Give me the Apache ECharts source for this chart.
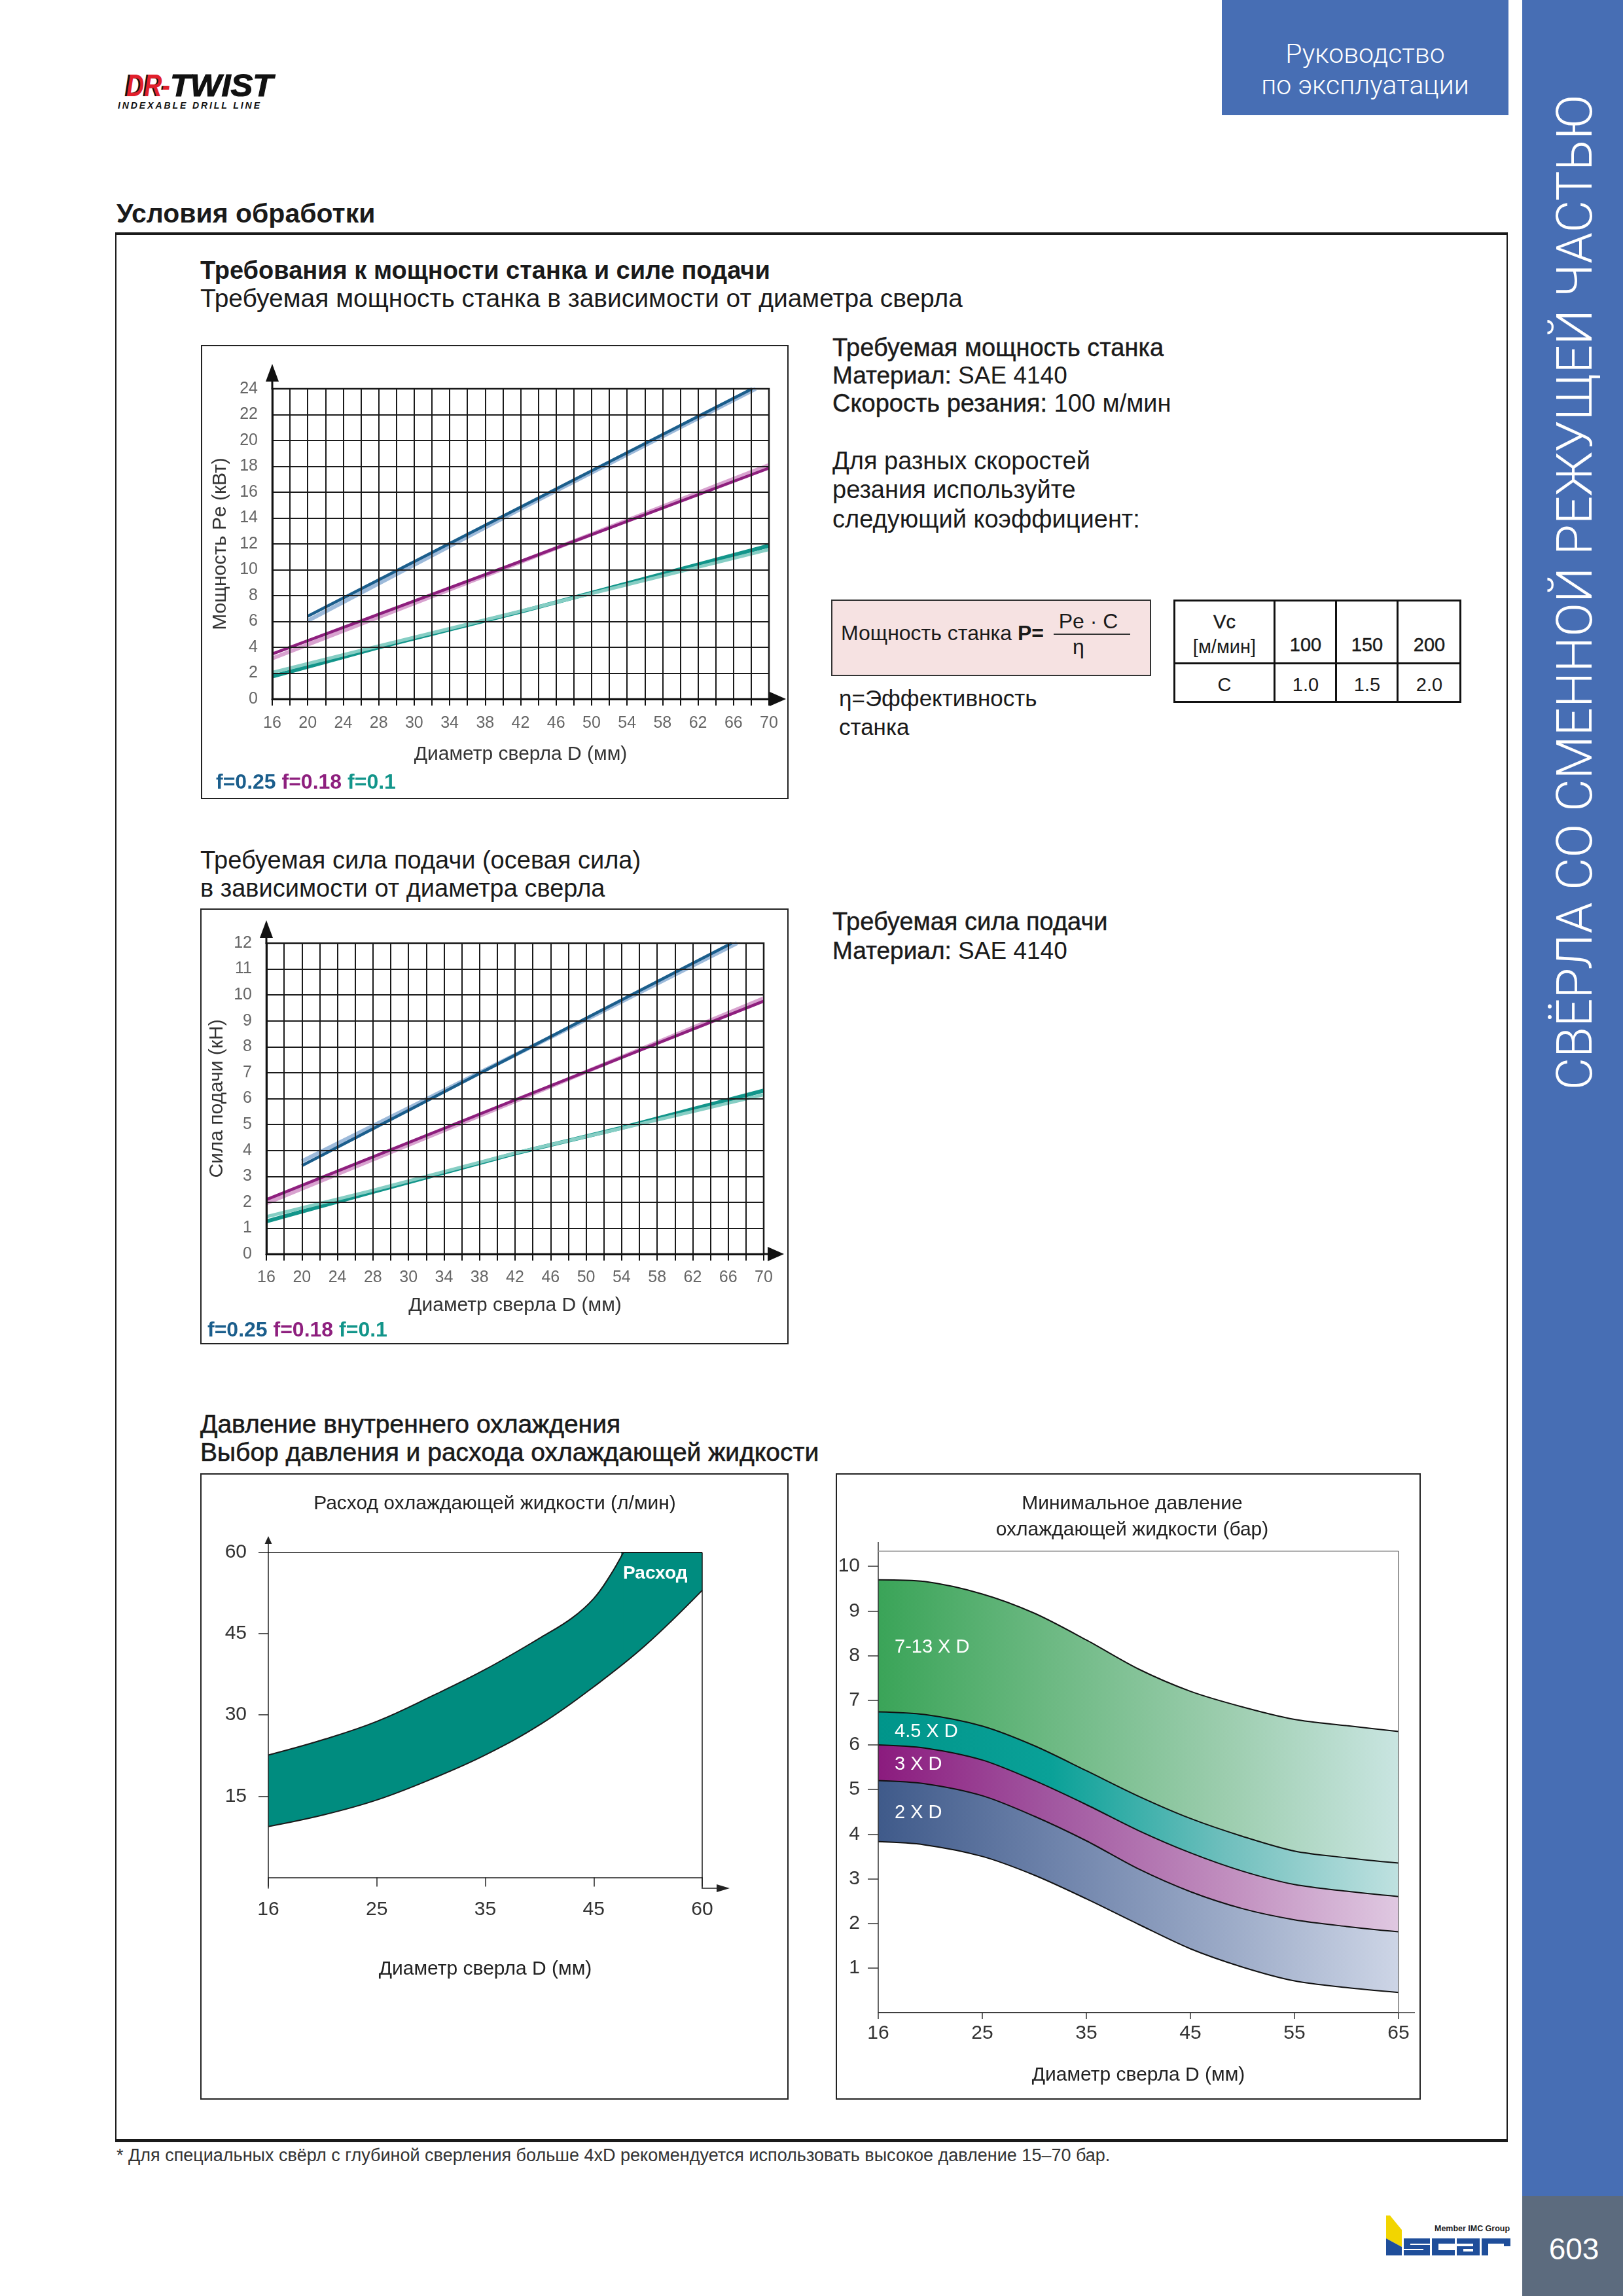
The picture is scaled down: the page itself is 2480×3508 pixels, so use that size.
<!DOCTYPE html>
<html><head><meta charset="utf-8">
<script src="https://cdn.jsdelivr.net/npm/echarts@6/dist/echarts.min.js"></script>
<style>
html,body{margin:0;padding:0;background:#fff;}
body{width:2480px;height:3508px;position:relative;overflow:hidden;font-family:'Liberation Sans',Arial,Helvetica,sans-serif;color:#1a1a1a;}
.t{position:absolute;white-space:nowrap;line-height:1;}
.med{-webkit-text-stroke:0.45px #1a1a1a;}
.med2{-webkit-text-stroke:0.6px #1a1a1a;}
.b{font-weight:bold;}
.box{position:absolute;border:2px solid #222;box-sizing:border-box;}
.chart{position:absolute;}
.c{text-align:center;}
</style></head><body>

<!-- DR-TWIST logo -->
<svg style="position:absolute;left:170px;top:100px" width="270" height="75">
  <text x="20" y="47" font-family="Liberation Sans, Arial" font-weight="bold" font-style="italic" font-size="48" fill="#111" textLength="68" lengthAdjust="spacingAndGlyphs">DR-</text>
  <text x="23" y="47" font-family="Liberation Sans, Arial" font-weight="bold" font-style="italic" font-size="48" fill="#E2202B" textLength="67" lengthAdjust="spacingAndGlyphs">DR-</text>
  <text x="90" y="47" font-family="Liberation Sans, Arial" font-weight="bold" font-style="italic" font-size="48" fill="#111" stroke="#111" stroke-width="1.2" textLength="157" lengthAdjust="spacingAndGlyphs">TWIST</text>
  <text x="10" y="66" font-family="Liberation Sans, Arial" font-weight="bold" font-style="italic" font-size="14" fill="#111" textLength="217" lengthAdjust="spacing">INDEXABLE DRILL LINE</text>
</svg>

<!-- header blue box -->
<div style="position:absolute;left:1867px;top:0;width:438px;height:176px;background:#476EB4;"></div>
<div class="t c" style="left:1867px;width:438px;top:62px;font-family:Roboto,'Liberation Sans';font-weight:300;font-size:41px;color:#fff;">Руководство</div>
<div class="t c" style="left:1867px;width:438px;top:110px;font-family:Roboto,'Liberation Sans';font-weight:300;font-size:41px;color:#fff;">по эксплуатации</div>

<!-- sidebar -->
<svg style="position:absolute;left:2326px;top:0" width="154" height="3508">
  <rect x="0" y="0" width="154" height="3355" fill="#476EB4"/>
  <rect x="0" y="3355" width="154" height="153" fill="#5C6B7E"/>
  <text x="80" y="905" transform="rotate(-90 80 905)" text-anchor="middle" dominant-baseline="central" font-family="Roboto, Liberation Sans" font-weight="300" font-size="76" fill="#fff" textLength="1521" lengthAdjust="spacingAndGlyphs">СВЁРЛА СО СМЕННОЙ РЕЖУЩЕЙ ЧАСТЬЮ</text>
  <text x="79" y="3436" text-anchor="middle" dominant-baseline="central" font-family="Liberation Sans, Arial" font-size="46" fill="#fff">603</text>
</svg>

<!-- ISCAR logo -->
<svg style="position:absolute;left:2110px;top:3380px" width="205" height="72">
  <polygon points="8,5 14,5 32,27 32,53 8,40" fill="#F2D500"/>
  <polygon points="8,40 32,53 32,66 8,66" fill="#1F4E9A"/>
  <path d="M35,40 h40 v8 h-30 v2 h30 v16 h-40 v-8 h30 v-2 h-30 z" fill="#1F4E9A"/>
  <path d="M78,40 h35 v8 h-25 v10 h25 v8 h-35 z" fill="#1F4E9A"/>
  <path d="M116,40 h35 v26 h-35 v-14 h25 v-4 h-25 z M126,56 v4 h15 v-4 z" fill="#1F4E9A"/>
  <path d="M154,40 h44 v12 h-10 v-4 h-24 v18 h-10 z" fill="#1F4E9A"/>
  <text x="82" y="29" font-family="Liberation Sans, Arial" font-weight="bold" font-size="12" fill="#222" textLength="115" lengthAdjust="spacingAndGlyphs">Member IMC Group</text>
</svg>

<!-- main heading and frame -->
<div class="t b" style="left:178px;top:306px;font-size:41px;">Условия обработки</div>
<div style="position:absolute;left:176px;top:355px;width:2128px;height:2918px;border-top:4px solid #1a1a1a;border-bottom:5px solid #1a1a1a;border-left:2px solid #1a1a1a;border-right:2px solid #1a1a1a;box-sizing:border-box;"></div>

<!-- section 1 -->
<div class="t b" style="left:306px;top:394px;font-size:38px;">Требования к мощности станка и силе подачи</div>
<div class="t" style="left:306px;top:436px;font-size:39px;">Требуемая мощность станка в зависимости от диаметра сверла</div>

<div class="t med" style="left:1272px;top:512px;font-size:38px;">Требуемая мощность станка</div>
<div class="t" style="left:1272px;top:555px;font-size:37px;"><span class="med">Материал:</span> SAE 4140</div>
<div class="t" style="left:1272px;top:597px;font-size:38px;"><span class="med">Скорость резания:</span> 100 м/мин</div>
<div class="t" style="left:1272px;top:685px;font-size:38px;">Для разных скоростей</div>
<div class="t" style="left:1272px;top:729px;font-size:38px;">резания используйте</div>
<div class="t" style="left:1272px;top:774px;font-size:38px;">следующий коэффициент:</div>

<!-- formula box -->
<div style="position:absolute;left:1270px;top:916px;width:489px;height:117px;background:#F6E2E2;border:2px solid #333;box-sizing:border-box;"></div>
<div class="t" style="left:1285px;top:951px;font-size:32px;">Мощность станка <span class="b">P=</span></div>
<div class="t c" style="left:1563px;width:200px;top:933px;font-size:32px;">Pe · C</div>
<div style="position:absolute;left:1610px;top:968px;width:117px;height:2px;background:#333;"></div>
<div class="t c" style="left:1548px;width:200px;top:972px;font-size:32px;">η</div>
<div class="t" style="left:1282px;top:1049px;font-size:35px;">η=Эффективность</div>
<div class="t" style="left:1282px;top:1093px;font-size:35px;">станка</div>

<!-- coefficient table -->
<div style="position:absolute;left:1793px;top:916px;width:440px;height:158px;border:3px solid #111;box-sizing:border-box;"></div>
<div style="position:absolute;left:1793px;top:1012px;width:440px;height:3px;background:#111;"></div>
<div style="position:absolute;left:1946px;top:916px;width:3px;height:158px;background:#111;"></div>
<div style="position:absolute;left:2040px;top:916px;width:3px;height:158px;background:#111;"></div>
<div style="position:absolute;left:2134px;top:916px;width:3px;height:158px;background:#111;"></div>
<div class="t c med" style="left:1771px;width:200px;top:936px;font-size:29px;">Vc</div>
<div class="t c" style="left:1771px;width:200px;top:974px;font-size:29px;">[м/мин]</div>
<div class="t c med" style="left:1895px;width:200px;top:971px;font-size:29px;">100</div>
<div class="t c med" style="left:1989px;width:200px;top:971px;font-size:29px;">150</div>
<div class="t c med" style="left:2084px;width:200px;top:971px;font-size:29px;">200</div>
<div class="t c" style="left:1771px;width:200px;top:1032px;font-size:29px;">C</div>
<div class="t c" style="left:1895px;width:200px;top:1032px;font-size:29px;">1.0</div>
<div class="t c" style="left:1989px;width:200px;top:1032px;font-size:29px;">1.5</div>
<div class="t c" style="left:2084px;width:200px;top:1032px;font-size:29px;">2.0</div>

<!-- section 2 -->
<div class="t" style="left:306px;top:1295px;font-size:38px;">Требуемая сила подачи (осевая сила)</div>
<div class="t" style="left:306px;top:1338px;font-size:38px;">в зависимости от диаметра сверла</div>
<div class="t med" style="left:1272px;top:1389px;font-size:38px;">Требуемая сила подачи</div>
<div class="t" style="left:1272px;top:1434px;font-size:37px;"><span class="med">Материал:</span> SAE 4140</div>

<!-- section 3 -->
<div class="t med2" style="left:306px;top:2156px;font-size:39px;">Давление внутреннего охлаждения</div>
<div class="t med2" style="left:306px;top:2199px;font-size:39px;">Выбор давления и расхода охлаждающей жидкости</div>

<!-- footer -->
<div class="t" style="left:178px;top:3280px;font-size:27px;color:#333;">* Для специальных свёрл с глубиной сверления больше 4xD рекомендуется использовать высокое давление 15–70 бар.</div>

<!-- chart boxes -->
<div class="box" style="left:307px;top:527px;width:898px;height:694px;"></div>
<div class="box" style="left:306px;top:1388px;width:899px;height:666px;"></div>
<div class="box" style="left:306px;top:2251px;width:899px;height:957px;"></div>
<div class="box" style="left:1277px;top:2251px;width:894px;height:957px;"></div>

<div id="c1" class="chart" style="left:307px;top:527px;width:898px;height:694px;"></div>
<div id="c2" class="chart" style="left:306px;top:1388px;width:899px;height:666px;"></div>
<div id="c3" class="chart" style="left:306px;top:2251px;width:899px;height:957px;"></div>
<div id="c4" class="chart" style="left:1277px;top:2251px;width:894px;height:957px;"></div>

<!-- chart overlays (legends, titles, band labels) -->
<div class="t b" style="left:330px;top:1178px;font-size:32px;"><span style="color:#1B5E8C">f=0.25</span> <span style="color:#8E1F7E">f=0.18</span> <span style="color:#12958A">f=0.1</span></div>
<div class="t b" style="left:317px;top:2015px;font-size:32px;"><span style="color:#1B5E8C">f=0.25</span> <span style="color:#8E1F7E">f=0.18</span> <span style="color:#12958A">f=0.1</span></div>

<div class="t c" style="left:456px;width:600px;top:2281px;font-size:30px;color:#222;">Расход охлаждающей жидкости (л/мин)</div>
<div class="t b" style="left:952px;top:2389px;font-size:28px;color:#fff;">Расход</div>

<div class="t c" style="left:1430px;width:600px;top:2281px;font-size:30px;color:#222;">Минимальное давление</div>
<div class="t c" style="left:1430px;width:600px;top:2321px;font-size:30px;color:#222;">охлаждающей жидкости (бар)</div>
<div class="t" style="left:1367px;top:2501px;font-size:29px;color:#fff;">7-13 X D</div>
<div class="t" style="left:1367px;top:2630px;font-size:29px;color:#fff;">4.5 X D</div>
<div class="t" style="left:1367px;top:2680px;font-size:29px;color:#fff;">3 X D</div>
<div class="t" style="left:1367px;top:2754px;font-size:29px;color:#fff;">2 X D</div>

<script>
// ================= DATA =================
// Grid charts (power, force): tick labels of the drill-diameter axis (equally spaced on paper)
const gridTickLabels = [16, 20, 24, 28, 30, 34, 38, 42, 46, 50, 54, 58, 62, 66, 70];
// Power Pe (kW) vs D (mm) — each feed drawn as a dark and a light stroke
const power025Dark  = [[20, 6.40], [42, 14.85], [68.1, 24.0]];
const power025Light = [[20, 6.05], [42, 14.70], [68.5, 24.0]];
const power018Dark  = [[16, 3.49], [42, 10.65], [70, 17.86]];
const power018Light = [[16, 3.14], [42, 10.60], [70, 18.10]];
const power01Dark   = [[16, 1.74], [28, 4.00], [42, 6.75], [70, 11.86]];
const power01Light  = [[16, 2.05], [28, 4.10], [42, 6.80], [70, 11.56]];
// Feed force (kN) vs D (mm)
const force025Dark  = [[20, 3.41], [50, 9.10], [66.4, 12.0]];
const force025Light = [[20, 3.58], [50, 9.05], [67.0, 12.0]];
const force018Dark  = [[16, 2.10], [42, 5.95], [70, 9.76]];
const force018Light = [[16, 1.96], [42, 5.90], [70, 9.87]];
const force01Dark   = [[16, 1.26], [28, 2.40], [42, 3.88], [54, 4.87], [70, 6.31]];
const force01Light  = [[16, 1.44], [28, 2.46], [42, 3.90], [54, 4.85], [70, 6.15]];

// Coolant flow (l/min) vs D (mm)
const flowTickLabels = [16, 25, 35, 45, 60];
const flowYTicks = [15, 30, 45, 60];
const flowUpper = [[16, 22.6], [20.5, 25.4], [25, 28.8], [30.2, 33.6], [35, 38.4], [40.2, 44.4], [43, 47.9], [45, 51.5], [47.2, 55.6], [49.1, 60]];
const flowCap   = [[48.8, 60], [60, 60]];
const flowLower = [[16, 9.4], [20.5, 11.5], [25, 14.3], [30.2, 18.3], [35, 22.6], [40.2, 28.4], [45, 35.2], [52.1, 42.8], [60, 53.0]];

// Minimal coolant pressure (bar) vs D (mm)
const pressTickLabels = [16, 25, 35, 45, 55, 65];
const pressYTicks = [1, 2, 3, 4, 5, 6, 7, 8, 9, 10];
const pressD        = [16, 20, 25, 30, 35, 40, 45, 50, 55, 60, 65];
const press713Top   = [9.70, 9.66, 9.38, 8.95, 8.35, 7.70, 7.20, 6.85, 6.57, 6.43, 6.30];
const press45Top    = [6.74, 6.68, 6.42, 5.98, 5.42, 4.85, 4.35, 3.95, 3.62, 3.47, 3.35];
const press3Top     = [6.00, 5.93, 5.66, 5.20, 4.66, 4.08, 3.58, 3.17, 2.87, 2.72, 2.60];
const press2Top     = [5.20, 5.13, 4.86, 4.40, 3.85, 3.22, 2.71, 2.33, 2.08, 1.93, 1.81];
const press2Bottom  = [3.83, 3.76, 3.50, 3.08, 2.55, 1.98, 1.43, 1.02, 0.71, 0.56, 0.45];

// ================= HELPERS =================
const FF = "'Liberation Sans', Arial, Helvetica, sans-serif";
// piecewise scale: tick labels are equally spaced on the axis
function toPos(d, ticks, step) {
  for (let i = 0; i < ticks.length - 1; i++) {
    if (d <= ticks[i + 1] || i === ticks.length - 2) {
      return (i + (d - ticks[i]) / (ticks[i + 1] - ticks[i])) * step;
    }
  }
}
const mapPts = (arr, ticks, step) => arr.map(p => [toPos(p[0], ticks, step), p[1]]);

function arrows(g, o) {
  const x0 = g.left, yb = g.top + g.height, xr = g.left + g.width;
  const c = o.color, lw = o.lw;
  return [
    {type:'line', z:100, shape:{x1:x0, y1:g.top + 1, x2:x0, y2:o.yTip + o.yah - 1}, style:{stroke:c, lineWidth:lw}},
    {type:'polygon', z:100, shape:{points:[[x0 - o.yaw/2, o.yTip + o.yah], [x0, o.yTip], [x0 + o.yaw/2, o.yTip + o.yah]]}, style:{fill:c}},
    {type:'line', z:100, shape:{x1:xr - 1, y1:yb, x2:o.xTip - o.xah + 1, y2:yb}, style:{stroke:c, lineWidth:lw}},
    {type:'polygon', z:100, shape:{points:[[o.xTip - o.xah, yb - o.xaw/2], [o.xTip, yb], [o.xTip - o.xah, yb + o.xaw/2]]}, style:{fill:c}}
  ];
}

function gridChart(id, g, yMax, yName, lines, namegaps, arrowCfg) {
  const chart = echarts.init(document.getElementById(id), null, {renderer:'canvas'});
  const series = lines.map(l => ({
    type:'line', data: mapPts(l.data, gridTickLabels, 2), showSymbol:false, silent:true,
    lineStyle:{color:l.color, width:l.w || 6, cap:'butt'}, z: l.z
  }));
  chart.setOption({
    animation:false,
    grid:{left:g.left, top:g.top, width:g.width, height:g.height, show:true, borderColor:'#111', borderWidth:2.5},
    xAxis:{
      type:'value', min:0, max:28, interval:1, z:5,
      axisLine:{lineStyle:{color:'#111', width:3}},
      axisTick:{show:true, length:10, lineStyle:{color:'#111', width:2}},
      axisLabel:{color:'#666', fontSize:25, fontFamily:FF, margin:namegaps.xm,
        formatter: v => (Math.round(v) % 2 === 0 ? String(gridTickLabels[Math.round(v) / 2]) : '')},
      splitLine:{show:true, lineStyle:{color:'#1a1a1a', width:2}},
      name:'Диаметр сверла D (мм)', nameLocation:'middle', nameGap:namegaps.x,
      nameTextStyle:{fontSize:30, color:'#333', fontFamily:FF}
    },
    yAxis:{
      type:'value', min:0, max:yMax, interval: yMax === 24 ? 2 : 1, z:5,
      axisLine:{show:true, lineStyle:{color:'#111', width:3}},
      axisTick:{show:false},
      axisLabel:{color:'#666', fontSize:25, fontFamily:FF, margin:namegaps.ym},
      splitLine:{show:true, lineStyle:{color:'#1a1a1a', width:2}},
      name:yName, nameLocation:'middle', nameGap:namegaps.y,
      nameTextStyle:{fontSize:30, color:'#333', fontFamily:FF}
    },
    series,
    graphic: arrows(g, arrowCfg)
  });
}

// ================= CHART 1: power =================
gridChart('c1', {left:109, top:67, width:759, height:474}, 24, 'Мощность Pe (кВт)', [
  {data:power025Light, color:'#9DBADA', z:2, w:6},
  {data:power025Dark,  color:'#1B5E8C', z:3, w:4.5},
  {data:power018Light, color:'#D8A2CF', z:2, w:6},
  {data:power018Dark,  color:'#8E1F7E', z:3, w:4.5},
  {data:power01Light,  color:'#86CEC4', z:3, w:5},
  {data:power01Dark,   color:'#12958A', z:2, w:6}
], {x:70, xm:25, y:64, ym:22}, {color:'#111', lw:3, yTip:29, yah:27, yaw:20, xTip:894, xah:25, xaw:22});

// ================= CHART 2: feed force =================
gridChart('c2', {left:101, top:53, width:760, height:475}, 12, 'Сила подачи (кН)', [
  {data:force025Light, color:'#9DBADA', z:2, w:6},
  {data:force025Dark,  color:'#1B5E8C', z:3, w:4.5},
  {data:force018Light, color:'#D8A2CF', z:2, w:6},
  {data:force018Dark,  color:'#8E1F7E', z:3, w:4.5},
  {data:force01Light,  color:'#86CEC4', z:3, w:5},
  {data:force01Dark,   color:'#12958A', z:2, w:6}
], {x:64, xm:24, y:58, ym:22}, {color:'#111', lw:3, yTip:18, yah:27, yaw:20, xTip:892, xah:25, xaw:22});

// ================= CHART 3: coolant flow =================
(function(){
  const chart = echarts.init(document.getElementById('c3'), null, {renderer:'canvas'});
  const g = {left:104, top:121, width:663, height:513};
  const axisC = '#222';
  chart.setOption({
    animation:false,
    grid:{left:g.left, top:g.top, width:g.width, height:g.height, show:false},
    xAxis:{type:'value', min:0, max:4, interval:1, z:10,
      axisLine:{lineStyle:{color:axisC, width:1.5}},
      axisTick:{show:true, length:14, lineStyle:{color:axisC, width:1.5}},
      axisLabel:{color:'#333', fontSize:30, fontFamily:FF, margin:18, formatter: v => String(flowTickLabels[Math.round(v)])},
      splitLine:{show:false},
      name:'Диаметр сверла D (мм)', nameLocation:'middle', nameGap:109,
      nameTextStyle:{fontSize:30, color:'#222', fontFamily:FF}
    },
    yAxis:{type:'value', min:-2, max:60, z:10,
      axisLine:{show:true, lineStyle:{color:axisC, width:1.5}},
      axisTick:{show:true, length:15, customValues:flowYTicks, lineStyle:{color:axisC, width:1.5}},
      axisLabel:{customValues:flowYTicks, color:'#333', fontSize:30, fontFamily:FF, margin:33},
      splitLine:{show:false}
    },
    series:[
      {type:'line', data:mapPts(flowCap, flowTickLabels, 1), smooth:false, showSymbol:false, silent:true, z:2,
        lineStyle:{color:'#1a1a1a', width:2}, areaStyle:{color:'#008C7F', opacity:1, origin:'start'}},
      {type:'line', data:mapPts(flowUpper, flowTickLabels, 1), smooth:0.4, showSymbol:false, silent:true, z:2,
        lineStyle:{color:'#1a1a1a', width:2}, areaStyle:{color:'#008C7F', opacity:1, origin:'start'}},
      {type:'line', data:mapPts(flowLower, flowTickLabels, 1), smooth:0.4, showSymbol:false, silent:true, z:3,
        lineStyle:{color:'#1a1a1a', width:2}, areaStyle:{color:'#ffffff', opacity:1, origin:'start'}}
    ],
    graphic: arrows(g, {color:axisC, lw:1.5, yTip:96, yah:12, yaw:11, xTip:809, xah:20, xaw:12}).concat([
      {type:'line', z:100, shape:{x1:g.left, y1:g.top, x2:g.left + g.width, y2:g.top}, style:{stroke:'#1a1a1a', lineWidth:1.5}},
      {type:'line', z:100, shape:{x1:g.left + g.width, y1:g.top, x2:g.left + g.width, y2:g.top + g.height}, style:{stroke:'#1a1a1a', lineWidth:1.5}}
    ])
  });
})();

// ================= CHART 4: coolant pressure =================
(function(){
  const chart = echarts.init(document.getElementById('c4'), null, {renderer:'canvas'});
  const g = {left:65, top:119, width:795, height:705};
  const axisC = '#333';
  const grad = stops => ({type:'linear', x:0, y:0, x2:1, y2:0, colorStops: stops.map((c, i) => ({offset: i / (stops.length - 1), color: c}))});
  const curve = vals => pressD.map((d, i) => [toPos(d, pressTickLabels, 1), vals[i]]);
  const band = (vals, fill, z) => ({type:'line', data:curve(vals), smooth:0.3, showSymbol:false, silent:true, z,
    lineStyle:{color:'#111', width:2}, areaStyle:{color:fill, opacity:1, origin:'start'}});
  chart.setOption({
    animation:false,
    grid:{left:g.left, top:g.top, width:g.width, height:g.height, show:false},
    xAxis:{type:'value', min:0, max:5, interval:1, z:10,
      axisLine:{lineStyle:{color:axisC, width:1.5}},
      axisTick:{show:true, length:10, lineStyle:{color:axisC, width:1.5}},
      axisLabel:{color:'#333', fontSize:30, fontFamily:FF, margin:17, formatter: v => String(pressTickLabels[Math.round(v)])},
      splitLine:{show:false},
      name:'Диаметр сверла D (мм)', nameLocation:'middle', nameGap:81,
      nameTextStyle:{fontSize:30, color:'#222', fontFamily:FF}
    },
    yAxis:{type:'value', min:0, max:10.34, z:10,
      axisLine:{show:true, lineStyle:{color:axisC, width:1.5}},
      axisTick:{show:true, length:16, customValues:pressYTicks, lineStyle:{color:axisC, width:1.5}},
      axisLabel:{customValues:pressYTicks, color:'#333', fontSize:30, fontFamily:FF, margin:28},
      splitLine:{show:false}
    },
    series:[
      band(press713Top,  grad(['#3AA458', '#6DB983', '#9CCDAE', '#C9E5E1']), 2),
      band(press45Top,   grad(['#00958A', '#0AA198', '#6FBFBD', '#BFE1E0']), 3),
      band(press3Top,    grad(['#8B1B7E', '#A157A0', '#C08DBE', '#DFC8E1']), 4),
      band(press2Top,    grad(['#3F5A8A', '#6D82AA', '#9BAAC7', '#CDD5E6']), 5),
      band(press2Bottom, '#ffffff', 6)
    ],
    graphic:[
      {type:'line', z:100, shape:{x1:g.left, y1:g.top + g.height, x2:885, y2:g.top + g.height}, style:{stroke:axisC, lineWidth:1.5}},
      {type:'line', z:100, shape:{x1:g.left, y1:g.top, x2:g.left, y2:105}, style:{stroke:axisC, lineWidth:1.5}},
      {type:'line', z:100, shape:{x1:g.left, y1:g.top, x2:g.left + g.width, y2:g.top}, style:{stroke:'#999', lineWidth:1.5}},
      {type:'line', z:100, shape:{x1:g.left + g.width, y1:g.top, x2:g.left + g.width, y2:g.top + g.height}, style:{stroke:'#777', lineWidth:1.5}}
    ]
  });
})();
</script>
</body></html>
